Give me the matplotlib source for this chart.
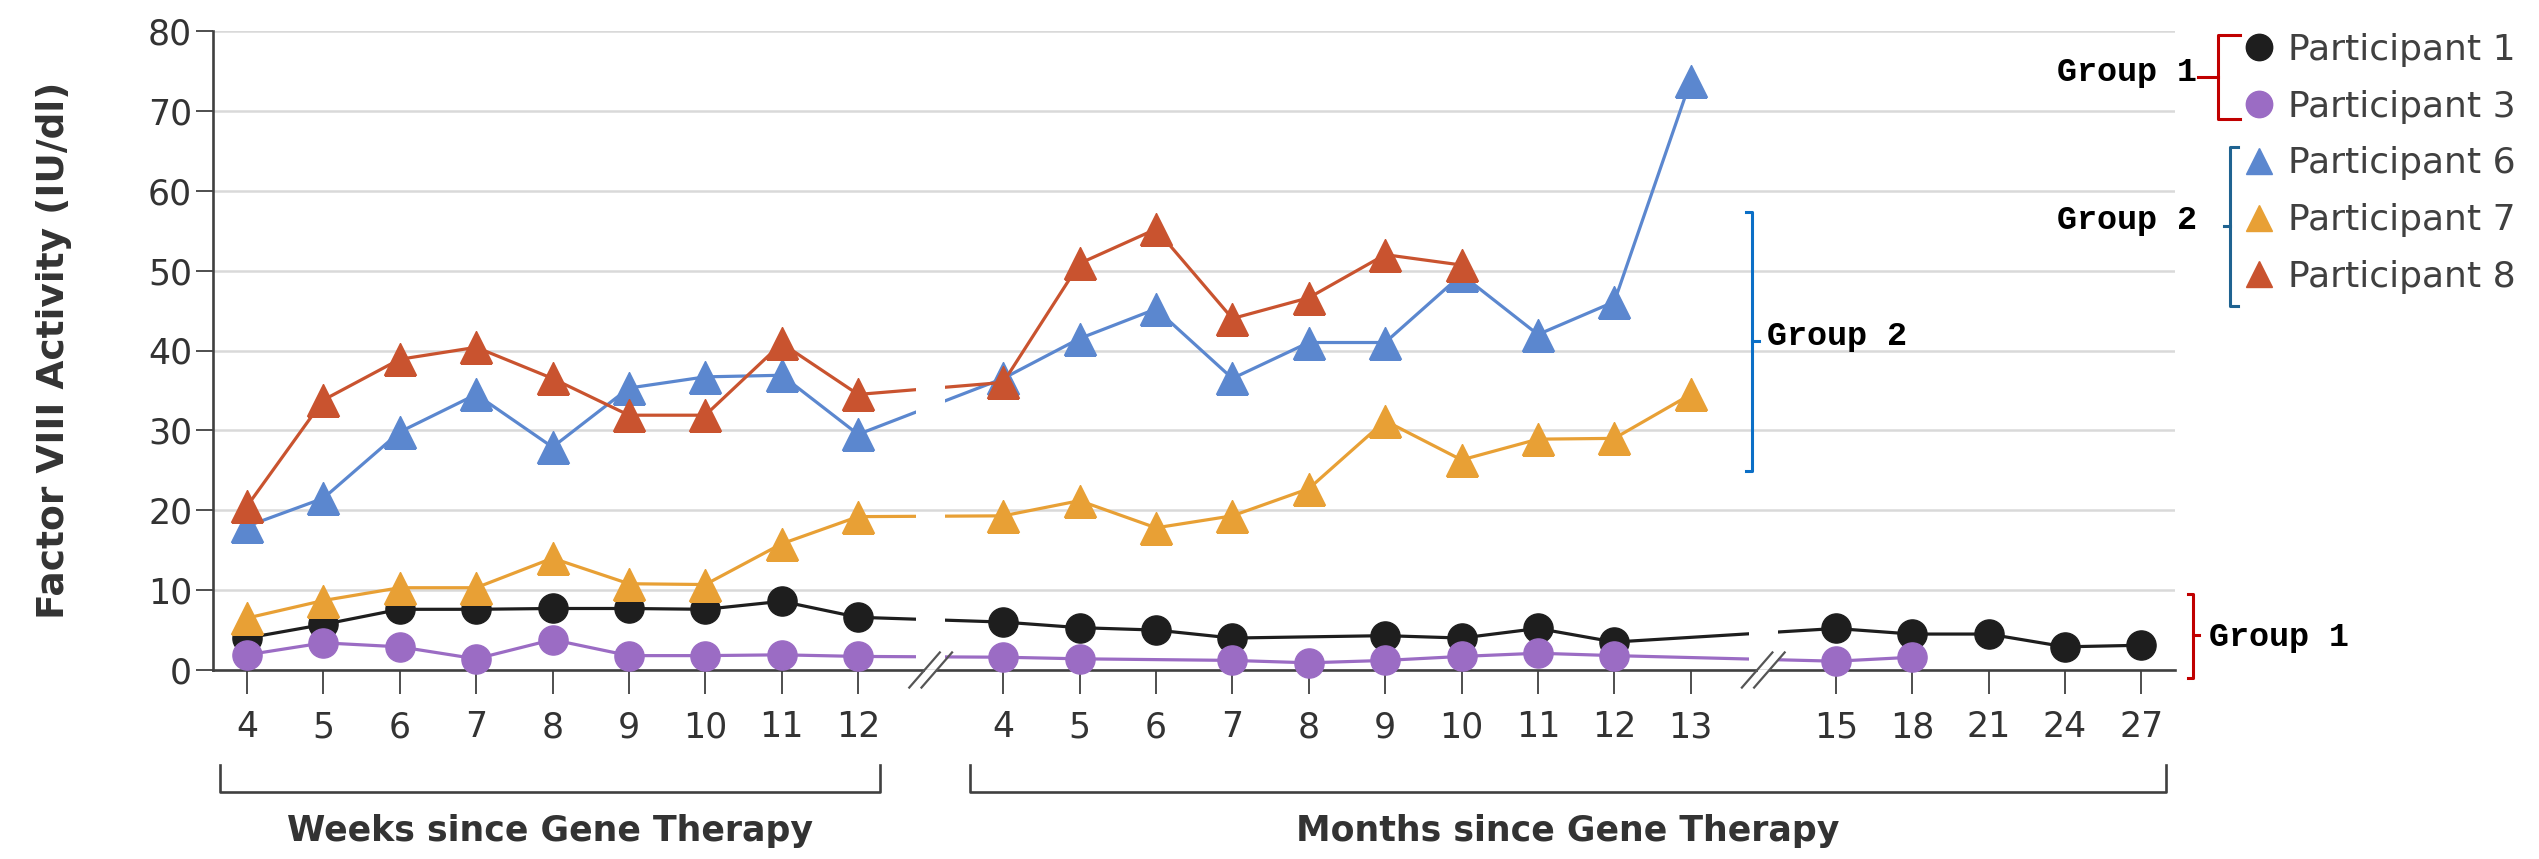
import numpy as np
import matplotlib
matplotlib.use('Agg')
import matplotlib.pyplot as plt
from matplotlib.path import Path
from matplotlib.lines import Line2D
from matplotlib.transforms import blended_transform_factory

# time points (three segments of the x axis)
weeks = [4, 5, 6, 7, 8, 9, 10, 11, 12]
months = [4, 5, 6, 7, 8, 9, 10, 11, 12, 13]
later = [15, 18, 21, 24, 27]

# factor VIII activity (IU/dl), None = no measurement
p1_weeks = [4.0, 5.7, 7.6, 7.6, 7.7, 7.7, 7.6, 8.6, 6.6]
p1_months = [6.0, 5.3, 5.0, 4.0, None, 4.3, 4.0, 5.2, 3.5, None]
p1_later = [5.2, 4.5, 4.5, 2.9, 3.1]

p3_weeks = [1.9, 3.4, 2.9, 1.4, 3.8, 1.8, 1.8, 1.9, 1.7]
p3_months = [1.6, 1.4, None, 1.2, 0.9, 1.2, 1.7, 2.1, 1.8, None]
p3_later = [1.1, 1.6, None, None, None]

p6_weeks = [18.0, 21.5, 29.8, 34.5, 27.9, 35.3, 36.7, 36.9, 29.5]
p6_months = [36.5, 41.5, 45.2, 36.5, 41.0, 41.0, 49.5, 42.0, 46.1, 73.8]
p6_later = [None] * 5

p7_weeks = [6.5, 8.7, 10.3, 10.3, 14.0, 10.8, 10.7, 15.8, 19.2]
p7_months = [19.3, 21.2, 17.8, 19.3, 22.7, 31.2, 26.3, 28.9, 29.0, 34.5]
p7_later = [None] * 5

p8_weeks = [20.5, 33.8, 38.9, 40.4, 36.5, 31.9, 31.9, 40.9, 34.5]
p8_months = [36.0, 50.9, 55.2, 44.0, 46.6, 52.0, 50.7, None, None, None]
p8_later = [None] * 5

labels = ['Participant 1', 'Participant 3', 'Participant 6', 'Participant 7', 'Participant 8']
colors = ['#1e1e1e', '#9b6cc4', '#5b87cf', '#e8a035', '#c9532f']
markers = ['o', 'o', '^', '^', '^']
series = [p1_weeks + p1_months + p1_later,
          p3_weeks + p3_months + p3_later,
          p6_weeks + p6_months + p6_later,
          p7_weeks + p7_months + p7_later,
          p8_weeks + p8_months + p8_later]

W, H = 2539, 859
fig = plt.figure(figsize=(W / 100, H / 100), dpi=100)
ax = fig.add_axes([213 / W, 1 - 670 / H, (2175 - 213) / W, (670 - 31) / H])

# positions on the broken axis
gap = 1.9
pos_w = np.arange(len(weeks), dtype=float)
pos_m = pos_w[-1] + gap + np.arange(len(months))
pos_l = pos_m[-1] + gap + np.arange(len(later))
pos_all = np.concatenate([pos_w, pos_m, pos_l])
breaks = [(pos_w[-1] + pos_m[0]) / 2, (pos_m[-1] + pos_l[0]) / 2]


def gap_path(half):
    # clip region with holes at the axis breaks
    edges = [-100]
    for b in breaks:
        edges += [b - half, b + half]
    edges.append(100)
    rects = []
    for x0, x1 in zip(edges[::2], edges[1::2]):
        rects.append(Path([(x0, -50), (x1, -50), (x1, 150), (x0, 150), (x0, -50)], closed=True))
    return Path.make_compound_path(*rects)


line_clip = gap_path(0.19)
axis_clip = gap_path(0.07)

for vals, lab, c, m in zip(series, labels, colors, markers):
    xs = [p for p, v in zip(pos_all, vals) if v is not None]
    ys = [v for v in vals if v is not None]
    ms = 21 if m == 'o' else 23
    ln, = ax.plot(xs, ys, color=c, lw=2.3, marker=m, ms=ms, mec=c, zorder=3, label=lab)
    ln.set_clip_path(line_clip, ax.transData)
    ln.set_clip_box(None)

ax.set_xlim(-0.445, 25.24)
ax.set_ylim(0, 80)
ax.set_yticks(range(0, 81, 10))
ax.set_xticks(pos_all)
ax.set_xticklabels([str(v) for v in weeks + months + later])

ax.set_axisbelow(True)
ax.yaxis.grid(True, color='#d9d9d9', lw=1.8)
for s in ['top', 'right', 'bottom']:
    ax.spines[s].set_visible(False)
ax.spines['left'].set_color('#404040')
ax.spines['left'].set_linewidth(1.9)

base = ax.axhline(0, color='#404040', lw=1.9, zorder=2.5)
base.set_clip_path(axis_clip, ax.transData)
base.set_clip_box(None)

ax.tick_params(axis='x', length=17, width=1.3, color='#404040', pad=12,
               labelsize=25, labelcolor='#333333')
ax.tick_params(axis='y', length=12, width=1.3, color='#404040', pad=3,
               labelsize=25, labelcolor='#333333')

ax.set_ylabel('Factor VIII Activity (IU/dl)', fontsize=27, fontweight='bold', color='#333333')
ax.yaxis.set_label_coords(-0.072, 0.5)

# break marks on the x axis
for b in breaks:
    for dx in (-0.08, 0.08):
        ax.plot([b + dx - 0.2, b + dx + 0.2], [-2.2, 2.2], color='#555555', lw=1.6,
                clip_on=False, zorder=4)

# segment brackets under the axis
trans = blended_transform_factory(ax.transData, ax.transAxes)
segs = [(pos_w[0] - 0.35, pos_w[-1] + 0.29, 'Weeks since Gene Therapy'),
        (pos_m[0] - 0.44, pos_l[-1] + 0.32, 'Months since Gene Therapy')]
for x0, x1, txt in segs:
    ax.plot([x0, x0, x1, x1], [-0.149, -0.191, -0.191, -0.149], transform=trans,
            color='#404040', lw=1.9, clip_on=False)
    ax.text((x0 + x1) / 2, -0.252, txt, transform=trans, ha='center', va='center',
            fontsize=25, fontweight='bold', color='#333333')

# legend
handles = [Line2D([], [], ls='none', marker=m, color=c, ms=19) for c, m in zip(colors, markers)]
fig.legend(handles, labels, loc='upper left', bbox_to_anchor=(2245 / W, 1 - 33 / H),
           frameon=False, fontsize=26, handlelength=0.8, handletextpad=0.4,
           labelspacing=0.63, borderpad=0, borderaxespad=0, labelcolor='#404040')

mono = dict(family='Liberation Mono', fontweight='bold', fontsize=24, color='black')


def bracket(x, y0, y1, serif, nub_y, nub, color, transform):
    fig.add_artist(Line2D([x + serif, x, x, x + serif], [y0, y0, y1, y1],
                          color=color, lw=2.2, transform=transform))
    fig.add_artist(Line2D([x, x + nub], [nub_y, nub_y], color=color, lw=2.2,
                          transform=transform))


# group brackets next to the legend (figure coordinates)
def fx(px):
    return px / W


def fy(px):
    return 1 - px / H


bracket(fx(2218), fy(35), fy(119), fx(22), fy(77), -fx(20), '#c00000', fig.transFigure)
fig.text(fx(2197), fy(73), 'Group 1', ha='right', va='center', **mono)
bracket(fx(2230), fy(147), fy(306), fx(8), fy(226), -fx(6), '#1f6391', fig.transFigure)
fig.text(fx(2197), fy(220), 'Group 2', ha='right', va='center', **mono)

# group brackets inside / beside the plot (data coordinates)
bracket(19.70, 57.3, 24.9, -0.08, 41.2, 0.1, '#0b6fc6', ax.transData)
ax.text(19.9, 41.8, 'Group 2', ha='left', va='center', **mono)
bracket(25.48, 9.5, -1.0, -0.07, 4.4, 0.07, '#c00000', ax.transData)
ax.text(25.68, 4.1, 'Group 1', ha='left', va='center', **mono)

fig.savefig('out.png', dpi=100)
